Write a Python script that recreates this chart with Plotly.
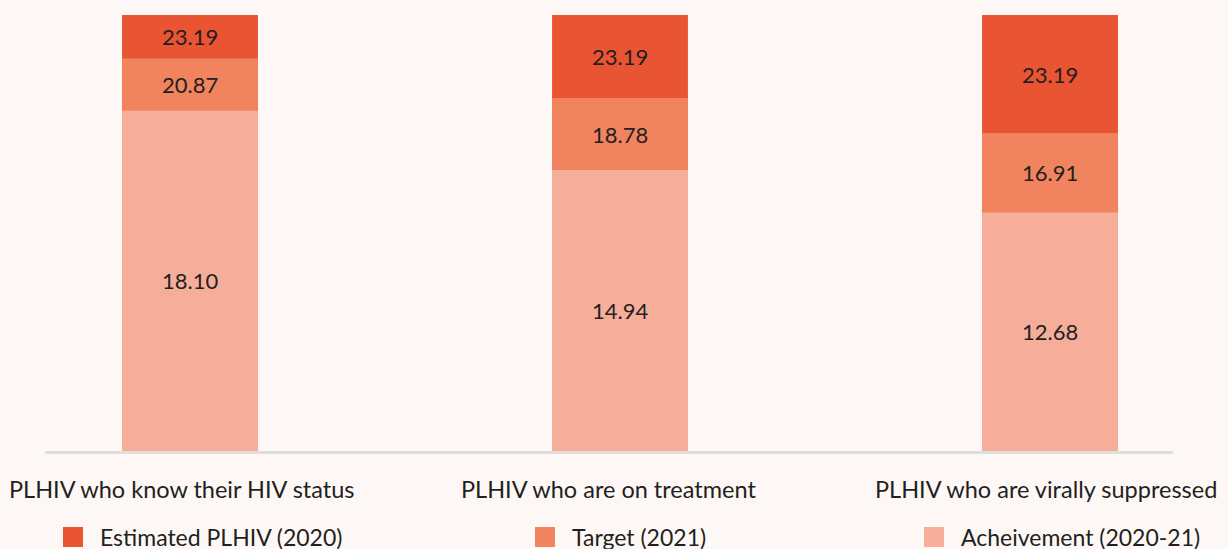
import plotly.graph_objects as go

categories = ["PLHIV who know their HIV status", "PLHIV who are on treatment", "PLHIV who are virally suppressed"]
series_names = ["Estimated PLHIV (2020)", "Target (2021)", "Acheivement (2020-21)"]
estimated = [23.19, 23.19, 23.19]
target = [20.87, 18.78, 16.91]
achievement = [18.10, 14.94, 12.68]

colors = ["#E95432", "#F1845F", "#F6AE9B"]
BG = "#FDF8F5"
FONT = "Lato"
TXT = "#231F20"

W, H = 1228, 549
ML, MR, MT, MB = 45, 55, 15, 98
PW = W - ML - MR
PH = H - MT - MB

xs = list(range(len(categories)))
fig = go.Figure()
for name, vals, col in zip(series_names, [estimated, target, achievement], colors):
    fig.add_trace(go.Bar(x=xs, y=vals, name=name, marker=dict(color=col, line=dict(width=0)),
                         width=0.316, showlegend=False, hoverinfo="y"))

annotations = []
# value labels centered in visible segments
series = [achievement, target, estimated]
for i in xs:
    lower = 0
    for vals in series:
        v = vals[i]
        annotations.append(dict(x=i, y=(lower + v) / 2, xref="x", yref="y", text=f"{v:.2f}",
                                showarrow=False, font=dict(family=FONT, size=22, color=TXT)))
        lower = v

# category labels
cat_shift = [-8, -12, -4]
for i, c in enumerate(categories):
    annotations.append(dict(x=i, y=-38 / PH, xref="x", yref="paper", text=c, showarrow=False,
                            xshift=cat_shift[i], yanchor="middle",
                            font=dict(family=FONT, size=23.5, color=TXT)))

# legend
leg_sq_x = [63, 535, 924]
shapes = []
for name, col, px in zip(series_names, colors, leg_sq_x):
    shapes.append(dict(type="rect", xref="paper", yref="paper",
                       x0=(px - ML) / PW, x1=(px + 20 - ML) / PW,
                       y0=(MT + PH - 547) / PH, y1=(MT + PH - 527) / PH,
                       fillcolor=col, line=dict(width=0)))
    annotations.append(dict(x=(px + 35 - ML) / PW, y=(MT + PH - 537) / PH, xref="paper", yref="paper",
                            text=name, showarrow=False, xanchor="left", yanchor="middle",
                            font=dict(family=FONT, size=23, color=TXT)))

fig.update_layout(
    width=W, height=H, barmode="overlay",
    paper_bgcolor=BG, plot_bgcolor=BG,
    margin=dict(l=ML, r=MR, t=MT, b=MB, pad=0),
    xaxis=dict(range=[-145 / 430, 983 / 430], showticklabels=False, showgrid=False, zeroline=False,
               showline=True, linecolor="#E0DDDB", linewidth=2.5, fixedrange=True),
    yaxis=dict(range=[0, 23.19], visible=False, fixedrange=True),
    annotations=annotations, shapes=shapes, showlegend=False,
    font=dict(family=FONT, color=TXT),
)
fig.write_html("out.html", config={"displayModeBar": False},
               post_script="document.body.style.margin='0';document.body.style.background='%s';" % BG)
